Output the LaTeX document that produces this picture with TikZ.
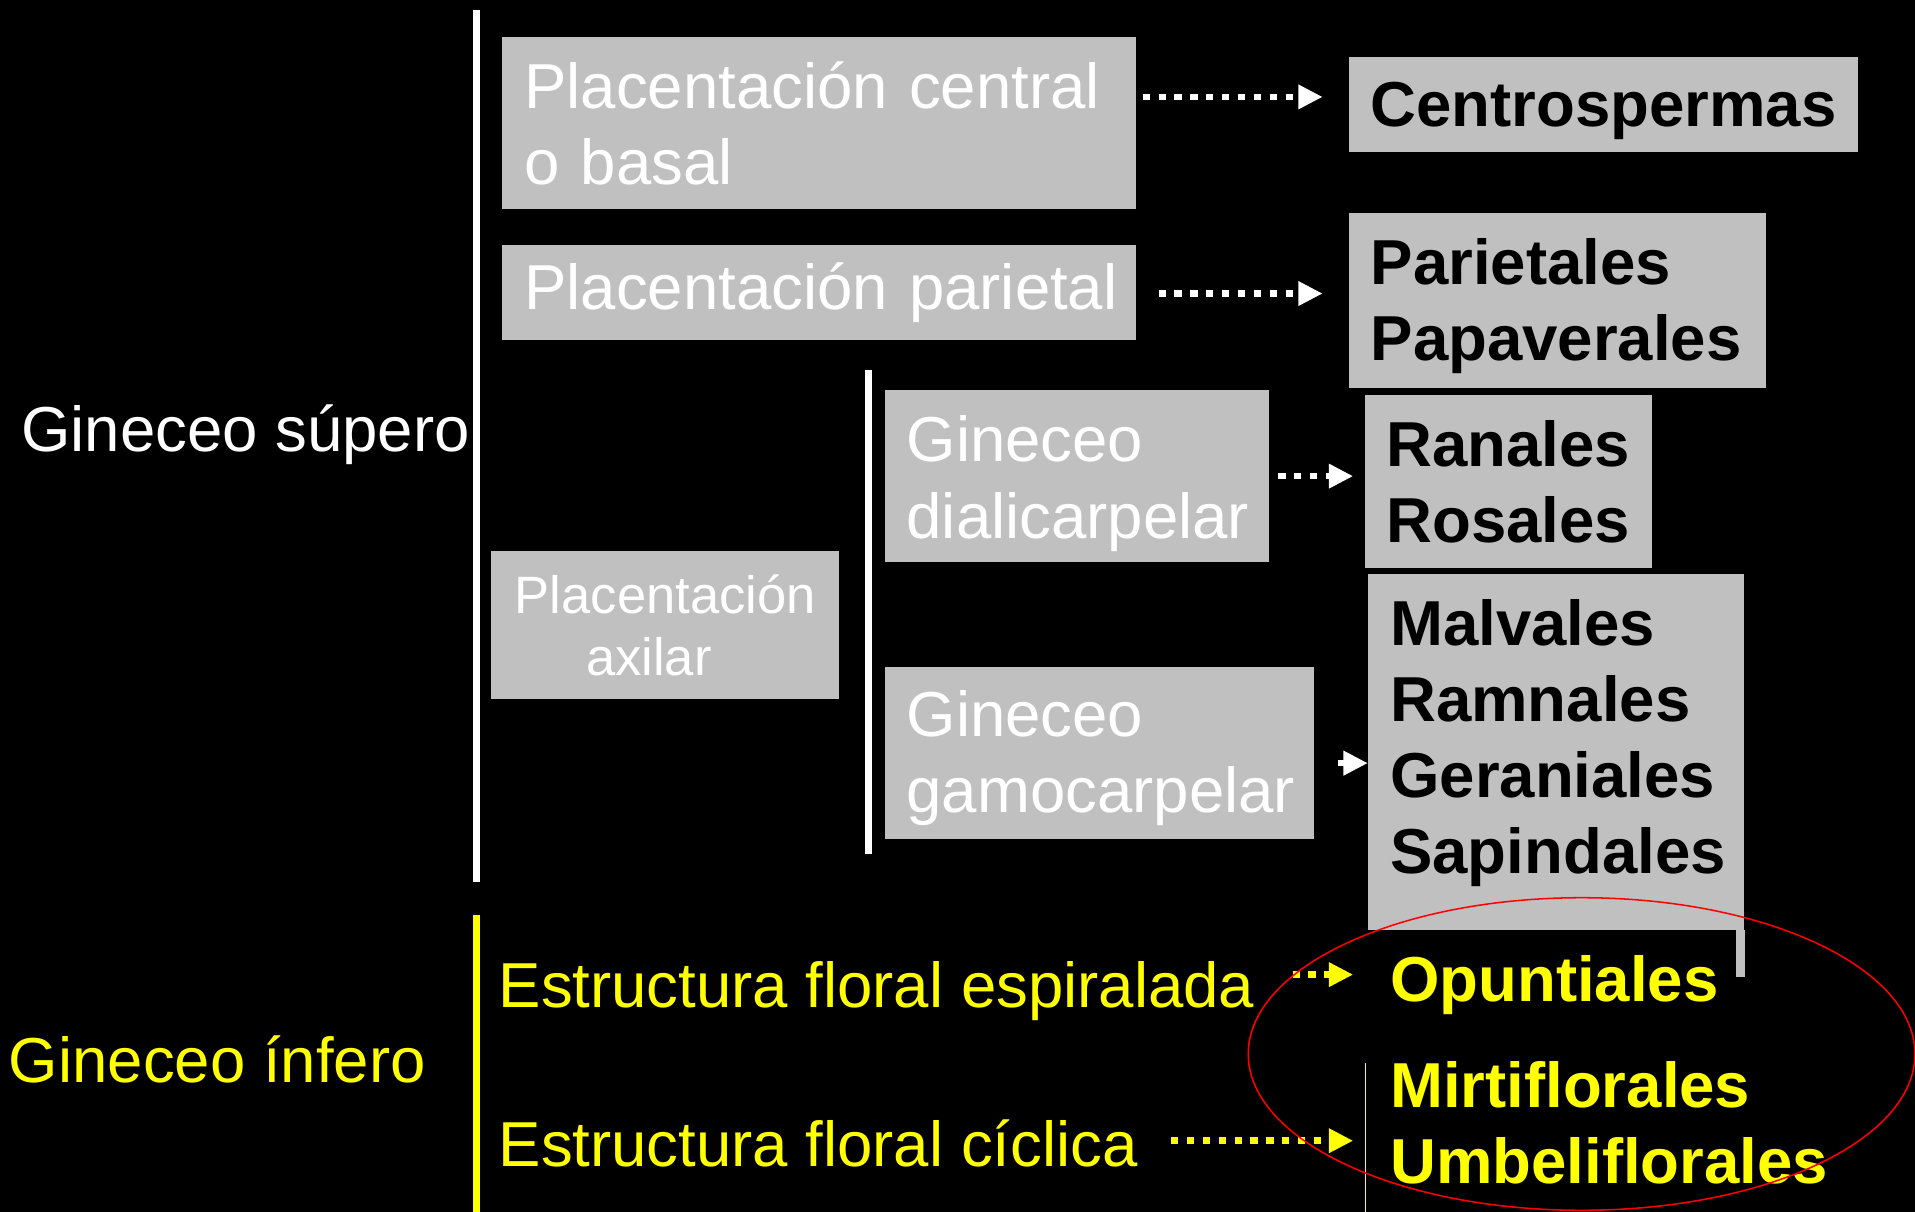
\documentclass[tikz,border=0pt]{standalone}
\usepackage{fontspec}
\setmainfont{Liberation Sans}
\usepackage{tikz}
\usetikzlibrary{calc,positioning,arrows.meta}
\definecolor{boxgray}{HTML}{C0C0C0}
\definecolor{ylw}{HTML}{FFFF00}
\newcommand{\bigfont}{\fontsize{29.6}{35.5}\selectfont}
\newcommand{\smallfont}{\fontsize{24.5}{29}\selectfont}

\begin{document}
\begin{tikzpicture}[x=0.02cm,y=-0.02cm,
		gbox/.style={fill=boxgray,anchor=north west,inner xsep=0.36cm,inner ysep=0pt,align=left,font=\bigfont},
		rbox/.style={gbox,font=\bigfont\bfseries,text=black},
		lbl/.style={anchor=base west,inner sep=0pt,font=\bigfont},
		dotarrow/.style={line width=0.11cm,dash pattern=on 0.12cm off 0.14cm,-{Triangle[length=0.4cm,width=0.38cm]}}]
		\fill[black] (0,0) rectangle (1568,992);
		\useasboundingbox (0,0) rectangle (1568,992);

		\draw[white,line width=0.11cm] (390,8) -- (390,722);
		\draw[white,line width=0.11cm] (711,303) -- (711,699);
		\draw[ylw,line width=0.11cm] (390,749) -- (390,992);
		\draw[ylw,line width=0.03cm] (1118,870) -- (1118,992);

		\node[lbl,text=white] (supero) at (17,370) {Gineceo súpero};
		\node[lbl,text=ylw] (infero) at (7,886) {Gineceo ínfero};

		\node[gbox,text=white,text width=9.66cm,minimum height=2.82cm] (pcentral) at (411,30) {Placentación central\\o basal};
		\node[gbox,text=white,text width=9.66cm,minimum height=1.56cm] (pparietal) at (411,200) {\mbox{Placentación parietal}};
		\node[gbox,text=white,text width=4.98cm,minimum height=2.42cm,align=center,font=\smallfont] (paxilar) at (402,451) {Placentación\\axilar\hspace*{0.54cm}};
		\node[gbox,text=white,text width=5.58cm,minimum height=2.82cm,text depth=1.22cm] (gdiali) at (724,319) {Gineceo\\dialicarpelar};
		\node[gbox,text=white,text width=6.32cm,minimum height=2.82cm,text depth=1.3cm] (ggamo) at (724,546) {Gineceo\\gamocarpelar};

		\node[rbox,text width=7.62cm,minimum height=1.56cm,text depth=0pt] (centro) at (1104,46) {Centrospermas};
		\node[rbox,text width=6.12cm,minimum height=2.86cm,text depth=1.26cm] (pariet) at (1104,174) {Parietales\\Papaverales};
		\node[rbox,text width=3.98cm,minimum height=2.84cm] (ranal) at (1117,323) {Ranales\\Rosales};
		\node[rbox,text width=5.44cm,minimum height=5.82cm,text depth=4.26cm] (malv) at (1120,470) {Malvales\\Ramnales\\Geraniales\\Sapindales};
		\fill[boxgray] (malv.south east) rectangle ++(-7,38);

		\node[lbl,text=ylw] (espiral) at (408,825) {Estructura floral espiralada};
		\node[lbl,text=ylw] (ciclica) at (408,955) {Estructura floral cíclica};
		\node[lbl,text=ylw,font=\bigfont\bfseries] (opunt) at (1138,820) {Opuntiales};
		\node[anchor=north west,inner sep=0pt,align=left,text=ylw,font=\bigfont\bfseries] (mirti) at (1138,869) {Mirtiflorales\\Umbeliflorales};

		\draw[dotarrow,white] ($(pcentral.east |- centro.west)+(5,-6)$) -- ($(centro.west)+(-21,-6)$);
		\draw[dotarrow,white] ($(pparietal.east)+(18,1)$) -- ($(pparietal.east -| pariet.west)+(-21,1)$);
		\draw[dotarrow,white] ($(gdiali.east)+(7,0)$) -- ($(gdiali.east -| ranal.west)+(-9,0)$);
		\draw[dotarrow,white] ($(ggamo.east)+(19,8)$) -- ($(ggamo.east -| malv.west)+(0,8)$);
		\draw[dotarrow,ylw] ($(espiral.base east)+(31,-27)$) -- ($(espiral.base east -| opunt.west)+(-30,-27)$);
		\draw[dotarrow,ylw] ($(ciclica.base east)+(27,-21)$) -- ($(ciclica.base east -| mirti.west)+(-30,-21)$);

		\draw[red,line width=0.025cm] (1295,863) ellipse [x radius=5.46cm,y radius=2.56cm];
	\end{tikzpicture}
\end{document}
